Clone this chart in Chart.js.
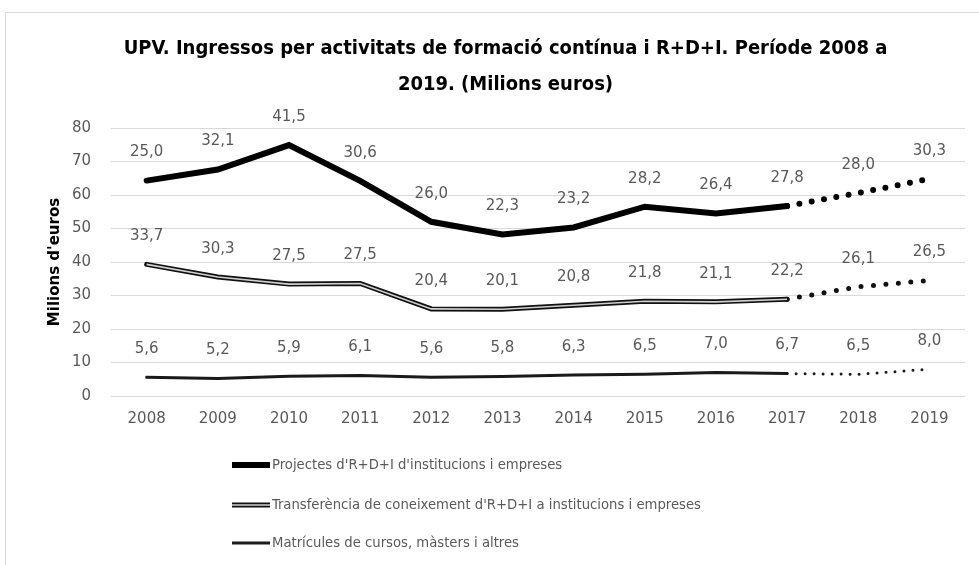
<!DOCTYPE html>
<html>
<head>
<meta charset="utf-8">
<script src="https://cdn.jsdelivr.net/npm/chart.js@4.4.1/dist/chart.umd.min.js"></script>
<style>
  html, body { margin: 0; padding: 0; background: #fff; }
  #marc { position: absolute; left: 5px; top: 12px; width: 990px; height: 600px; border: 1px solid #d9d9d9; }
  #caixa { position: absolute; left: 0; top: 0; width: 979px; height: 565px; }
</style>
</head>
<body>
<div id="marc"></div>
<div id="caixa"><canvas id="ingressos"></canvas></div>
<script>
const anys = ['2008', '2009', '2010', '2011', '2012', '2013', '2014', '2015', '2016', '2017', '2018', '2019'];
const projectes = [25.0, 32.1, 41.5, 30.6, 26.0, 22.3, 23.2, 28.2, 26.4, 27.8, 28.0, 30.3];
const transferencia = [33.7, 30.3, 27.5, 27.5, 20.4, 20.1, 20.8, 21.8, 21.1, 22.2, 26.1, 26.5];
const matricules = [5.6, 5.2, 5.9, 6.1, 5.6, 5.8, 6.3, 6.5, 7.0, 6.7, 6.5, 8.0];
const nomsSeries = [
  "Projectes d'R+D+I d'institucions i empreses",
  "Transferència de coneixement d'R+D+I a institucions i empreses",
  "Matrícules de cursos, màsters i altres"
];
const ultimReal = 9; // a partir de 2017 la linia es de punts (previsio)

// les linies van apilades: cada serie es dibuixa sobre l'anterior
const nivellMat = matricules.slice();
const nivellTra = transferencia.map((v, i) => v + nivellMat[i]);
const nivellPro = projectes.map((v, i) => v + nivellTra[i]);

const gris = '#595959';
const lletra = 'DejaVu Sans';

function punts(gap) {
  return ctx => ctx.p0DataIndex >= ultimReal ? [0, gap] : undefined;
}

// etiquetes de valor damunt de cada punt
const etiquetes = {
  id: 'etiquetes',
  afterDatasetsDraw(chart) {
    const c = chart.ctx;
    c.save();
    c.font = '15px "' + lletra + '"';
    c.fillStyle = gris;
    c.textAlign = 'center';
    c.textBaseline = 'middle';
    chart.data.datasets.forEach((ds, i) => {
      if (!ds.valors) return;
      chart.getDatasetMeta(i).data.forEach((p, j) => {
        c.fillText(ds.valors[j].toFixed(1).replace('.', ','), p.x, p.y - 28);
      });
    });
    c.restore();
  }
};

// llegenda en columna, com l'original
const llegenda = {
  id: 'llegenda',
  afterDraw(chart) {
    const c = chart.ctx;
    const x0 = 232, x1 = 270;
    const files = [465, 505, 543];
    c.save();
    c.lineCap = 'butt';
    // projectes: linia gruixuda
    c.strokeStyle = '#000'; c.lineWidth = 6;
    c.beginPath(); c.moveTo(x0, files[0]); c.lineTo(x1, files[0]); c.stroke();
    // transferencia: linia doble
    c.strokeStyle = '#111'; c.lineWidth = 5;
    c.beginPath(); c.moveTo(x0, files[1]); c.lineTo(x1, files[1]); c.stroke();
    c.strokeStyle = '#d0d0d0'; c.lineWidth = 1.6;
    c.beginPath(); c.moveTo(x0, files[1]); c.lineTo(x1, files[1]); c.stroke();
    // matricules
    c.strokeStyle = '#1a1a1a'; c.lineWidth = 3;
    c.beginPath(); c.moveTo(x0, files[2]); c.lineTo(x1, files[2]); c.stroke();
    c.font = '14.7px "DejaVu Sans Condensed"';
    c.fillStyle = gris;
    c.textAlign = 'left';
    c.textBaseline = 'middle';
    nomsSeries.forEach((n, i) => c.fillText(n, x1 + 2, files[i]));
    c.restore();
  }
};

const ctx = document.getElementById('ingressos').getContext('2d');
new Chart(ctx, {
  type: 'line',
  data: {
    labels: anys,
    datasets: [
      {
        label: nomsSeries[0],
        data: nivellPro,
        valors: projectes,
        borderColor: '#000',
        borderWidth: 6,
        borderCapStyle: 'round',
        segment: { borderDash: punts(12.5) },
        pointRadius: 0,
        tension: 0,
        order: 0
      },
      {
        label: nomsSeries[1],
        data: nivellTra,
        valors: transferencia,
        borderColor: '#111',
        borderWidth: 5,
        borderCapStyle: 'round',
        segment: { borderDash: punts(12.5) },
        pointRadius: 0,
        tension: 0,
        order: 2
      },
      {
        // franja interior clara de la linia doble
        label: '',
        data: nivellTra,
        borderColor: '#d0d0d0',
        borderWidth: 1.6,
        segment: { borderColor: ctx => ctx.p0DataIndex >= ultimReal ? 'rgba(0,0,0,0)' : undefined },
        pointRadius: 0,
        tension: 0,
        order: 1
      },
      {
        label: nomsSeries[2],
        data: nivellMat,
        valors: matricules,
        borderColor: '#1a1a1a',
        borderWidth: 3,
        borderCapStyle: 'round',
        segment: { borderDash: punts(9) },
        pointRadius: 0,
        tension: 0,
        order: 3
      }
    ]
  },
  options: {
    responsive: true,
    maintainAspectRatio: false,
    animation: false,
    layout: { padding: { left: 46, right: 14, bottom: 123 } },
    plugins: {
      legend: { display: false },
      tooltip: { enabled: false },
      title: {
        display: true,
        text: ['UPV. Ingressos per activitats de formació contínua i R+D+I. Període 2008 a', '2019. (Milions euros)'],
        color: '#000',
        font: { family: 'DejaVu Sans Condensed', weight: 'bold', size: 20, lineHeight: 1.8 },
        padding: { top: 31, bottom: 25 }
      }
    },
    scales: {
      x: {
        offset: true,
        grid: { display: false, drawTicks: false },
        border: { display: false },
        ticks: { color: gris, font: { family: lletra, size: 15 }, padding: 14 }
      },
      y: {
        min: 0,
        max: 80,
        ticks: { stepSize: 10, color: gris, font: { family: lletra, size: 15 }, padding: 20 },
        grid: { color: '#d9d9d9', drawTicks: false },
        border: { display: false },
        title: {
          display: true,
          text: "Milions d'euros",
          color: '#000',
          padding: { top: 0, bottom: -12 },
          font: { family: lletra, weight: 'bold', size: 15 }
        }
      }
    }
  },
  plugins: [etiquetes, llegenda]
});
</script>
</body>
</html>
